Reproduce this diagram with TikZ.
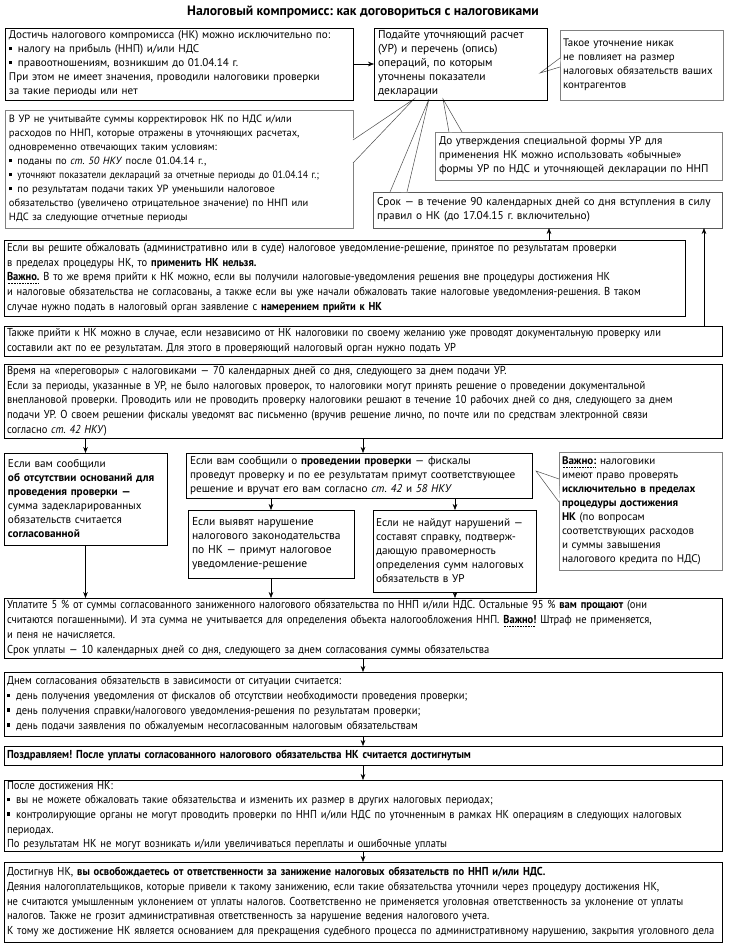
\documentclass[tikz,border=0pt]{standalone}
\usepackage{fontspec}
\setmainfont{PT Sans}
\newfontfamily\condfont[FakeStretch=0.915]{PT Sans}
\usetikzlibrary{arrows.meta,calc}
\frenchspacing
\newcommand\bul{\raisebox{0.22em}{\rule{0.3em}{0.3em}}\hspace{0.5em}}
\newsavebox\dotbox
\newcommand\dotul[1]{\sbox\dotbox{#1}\rlap{\raisebox{-2.8pt}{\hbox to\wd\dotbox{\leaders\hbox to 1.6pt{\hss\rule{0.6pt}{0.6pt}\hss}\hfill}}}\usebox\dotbox}
\newcommand\fs[1]{\fontsize{#1}{14}\selectfont}
\newcommand\nowrapset{\rightskip=0pt plus 1fil minus 40pt\linepenalty=1000\relax}
\tikzset{
  bx/.style={draw, line width=0.8pt, anchor=north west, inner xsep=4pt, inner ysep=1pt, align=left, outer sep=0pt, execute at begin node=\nowrapset},
  blk/.style={bx, draw=black},
  gry/.style={bx, draw=black!50},
  reg/.style={font=\fs{11.2}},
  wide/.style={font=\condfont\fontsize{11.5}{14.7}\selectfont, inner xsep=3pt},
  arr/.style={-{Stealth[length=6pt,width=4.6pt]}, line width=0.6pt},
  call/.style={line width=0.5pt, draw=black!70},
}
\begin{document}
\begin{tikzpicture}[x=1pt,y=-1pt]
\useasboundingbox (0,0) rectangle (729,946);
\node[font=\bfseries\fontsize{13.6}{15}\selectfont] (title) at (363,12) {Налоговый компромисс: как договориться с налоговиками};

% gray callout boxes first
\node[gry, font=\fs{10.9}, inner xsep=3pt, minimum width=163pt, minimum height=70pt, text width=157pt] (c) at (560,30) {Такое уточнение никак\\не повлияет на размер\\налоговых обязательств ваших\\контрагентов};
\node[gry, font=\fs{10.5}, minimum width=348pt, minimum height=118pt, text width=340pt] (d) at (5,110) {В УР не учитывайте суммы корректировок НК по НДС и/или\\расходов по ННП, которые отражены в уточняющих расчетах,\\одновременно отвечающих таким условиям:\\\bul поданы по \textit{ст. 50 НКУ} после 01.04.14 г.,\\{\condfont\bul уточняют показатели деклараций за отчетные периоды до 01.04.14 г.;}\\\bul по результатам подачи таких УР уменьшили налоговое\\обязательство (увеличено отрицательное значение) по ННП или\\НДС за следующие отчетные периоды};
\node[gry, reg, minimum width=287pt, minimum height=48pt, text width=279pt] (e) at (435,132) {До утверждения специальной формы УР для\\применения НК можно использовать «обычные»\\формы УР по НДС и уточняющей декларации по ННП};
\node[gry, draw=black!65, font=\fs{11.3}, minimum width=349pt, minimum height=36pt, text width=341pt] (f) at (373,192) {Срок — в течение 90 календарных дней со дня вступления в силу\\правил о НК (до 17.04.15 г. включительно)};
\node[gry, font=\fs{11}, inner xsep=3pt, minimum width=163pt, minimum height=118pt, text width=157pt] (n) at (559,452) {\textbf{\dotul{Важно:}} налоговики\\имеют право проверять\\\textbf{исключительно в пределах}\\\textbf{процедуры достижения}\\\textbf{НК} (по вопросам\\соответствующих расходов\\и суммы завышения\\налогового кредита по НДС)};

% callout wedges
\coordinate (tc) at (540,73);  \coordinate (c1) at (560,58);  \coordinate (c2) at (560,67);
\coordinate (td) at (414,99);  \coordinate (d1) at (353,140); \coordinate (d2) at (353,163);
\coordinate (tf) at (429,99);  \coordinate (f1) at (390,192); \coordinate (f2) at (407,192);
\coordinate (te) at (443,99);  \coordinate (e1) at (449,132); \coordinate (e2) at (462,132);
\coordinate (tn) at (536,471); \coordinate (n1) at (559,479); \coordinate (n2) at (559,502);
\foreach \t/\p/\q in {tc/c1/c2, td/d1/d2, tf/f1/f2, te/e1/e2, tn/n1/n2}{
  \fill[white] (\t) -- ($(\p)!1.2pt!90:(\t)$) -- ($(\q)!1.2pt!-90:(\t)$) -- cycle;
  \fill[white] (\t) -- (\p) -- (\q) -- cycle;
  \draw[call] (\p) -- (\t) -- (\q);
}

% main boxes
\node[blk, font=\fs{11.1}, minimum width=348pt, minimum height=72pt, text width=340pt] (a) at (5,28) {Достичь налогового компромисса (НК) можно исключительно по:\\\bul налогу на прибыль (ННП) и/или НДС\\\bul правоотношениям, возникшим до 01.04.14 г.\\При этом не имеет значения, проводили налоговики проверки\\за такие периоды или нет};
\node[blk, font=\fs{11.5}, minimum width=173pt, minimum height=72pt, text width=165pt] (b) at (374,28) {Подайте уточняющий расчет\\(УР) и перечень (опись)\\операций, по которым\\уточнены показатели\\декларации};
\node[blk, wide, minimum width=681pt, minimum height=76pt, text width=675pt] (g) at (4,240) {Если вы решите обжаловать (административно или в суде) налоговое уведомление-решение, принятое по результатам проверки\\в пределах процедуры НК, то \textbf{применить НК нельзя.}\\\textbf{\dotul{Важно.}} В то же время прийти к НК можно, если вы получили налоговые-уведомления решения вне процедуры достижения НК\\и налоговые обязательства не согласованы, а также если вы уже начали обжаловать такие налоговые уведомления-решения. В таком\\случае нужно подать в налоговый орган заявление с \textbf{намерением прийти к НК}};
\node[blk, wide, minimum width=718pt, minimum height=30pt, text width=712pt] (h) at (4,326) {Также прийти к НК можно в случае, если независимо от НК налоговики по своему желанию уже проводят документальную проверку или\\составили акт по ее результатам. Для этого в проверяющий налоговый орган нужно подать УР};
\node[blk, wide, minimum width=718pt, minimum height=74pt, text width=712pt] (i) at (4,364) {Время на «переговоры» с налоговиками — 70 календарных дней со дня, следующего за днем подачи УР.\\Если за периоды, указанные в УР, не было налоговых проверок, то налоговики могут принять решение о проведении документальной\\внеплановой проверки. Проводить или не проводить проверку налоговики решают в течение 10 рабочих дней со дня, следующего за днем\\подачи УР. О своем решении фискалы уведомят вас письменно (вручив решение лично, по почте или по средствам электронной связи\\согласно \textit{ст. 42 НКУ})};
\node[blk, reg, minimum width=163pt, minimum height=92pt, text width=155pt] (j) at (4,453) {Если вам сообщили\\\textbf{об отсутствии оснований для}\\\textbf{проведения проверки —}\\сумма задекларированных\\обязательств считается\\\textbf{согласованной}};
\node[blk, reg, minimum width=346pt, minimum height=45pt, text width=338pt] (k) at (186,453) {Если вам сообщили о \textbf{проведении проверки} — фискалы\\\leavevmode\hbox to\hsize{проведут проверку и по ее результатам примут соответствующее}\\решение и вручат его вам согласно \textit{ст. 42} и \textit{58 НКУ}};
\node[blk, font=\fs{11.5}, minimum width=166pt, minimum height=68pt, text width=158pt] (l) at (188,510) {Если выявят нарушение\\налогового законодательства\\по НК — примут налоговое\\уведомление-решение};
\node[blk, reg, inner xsep=3pt, minimum width=163pt, minimum height=82pt, text width=157pt] (m) at (373,510) {Если не найдут нарушений —\\составят справку, подтверж-\\дающую правомерность\\определения сумм налоговых\\обязательств в УР};
\node[blk, wide, minimum width=718pt, minimum height=60pt, text width=712pt] (o) at (4,598) {Уплатите 5 \% от суммы согласованного заниженного налогового обязательства по ННП и/или НДС. Остальные 95 \% \textbf{вам прощают} (они\\считаются погашенными). И эта сумма не учитывается для определения объекта налогообложения ННП. \textbf{\dotul{Важно!}} Штраф не применяется,\\и пеня не начисляется.\\Срок уплаты — 10 календарных дней со дня, следующего за днем согласования суммы обязательства};
\node[blk, wide, minimum width=718pt, minimum height=64pt, text width=712pt] (p) at (4,672) {Днем согласования обязательств в зависимости от ситуации считается:\\\bul день получения уведомления от фискалов об отсутствии необходимости проведения проверки;\\\bul день получения справки/налогового уведомления-решения по результатам проверки;\\\bul день подачи заявления по обжалуемым несогласованным налоговым обязательствам};
\node[blk, wide, minimum width=718pt, minimum height=19pt, text width=712pt] (q) at (4,746) {\textbf{Поздравляем! После уплаты согласованного налогового обязательства НК считается достигнутым}};
\node[blk, wide, minimum width=718pt, minimum height=68pt, text width=712pt] (r) at (4,780) {После достижения НК:\\\bul вы не можете обжаловать такие обязательства и изменить их размер в других налоговых периодах;\\\bul контролирующие органы не могут проводить проверки по ННП и/или НДС по уточненным в рамках НК операциям в следующих налоговых\\периодах.\\По результатам НК не могут возникать и/или увеличиваться переплаты и ошибочные уплаты};
\node[blk, wide, minimum width=718pt, minimum height=80pt, text width=712pt] (s) at (4,862) {Достигнув НК, \textbf{вы освобождаетесь от ответственности за занижение налоговых обязательств по ННП и/или НДС.}\\Деяния налогоплательщиков, которые привели к такому занижению, если такие обязательства уточнили через процедуру достижения НК,\\не считаются умышленным уклонением от уплаты налогов. Соответственно не применяется уголовная ответственность за уклонение от уплаты\\налогов. Также не грозит административная ответственность за нарушение ведения налогового учета.\\К тому же достижение НК является основанием для прекращения судебного процесса по административному нарушению, закрытия уголовного дела};

% connectors
\coordinate (xg) at (549,0); \coordinate (xh) at (704,0);
\coordinate (xk) at (363,0); \coordinate (xm) at (455,0);
\draw[arr] (a.east) -- (b.west);
\draw[arr] (g.north -| xg) -- (f.south -| xg);
\draw[arr] (h.north -| xh) -- (f.south -| xh);
\draw[arr] (i.south -| j.north) -- (j.north);
\draw[arr] (i.south -| xk) -- (k.north -| xk);
\draw[arr] (k.south -| l.north) -- (l.north);
\draw[arr] (k.south -| xm) -- (m.north -| xm);
\draw[arr] (j.south) -- (o.north -| j.south);
\draw[arr] (l.south) -- (o.north -| l.south);
\draw[arr] (m.south -| xm) -- (o.north -| xm);
\draw[arr] (o.south) -- (p.north);
\draw[arr] (p.south) -- (q.north);
\draw[arr] (q.south) -- (r.north);
\draw[arr] (r.south) -- (s.north);
\end{tikzpicture}
\end{document}
